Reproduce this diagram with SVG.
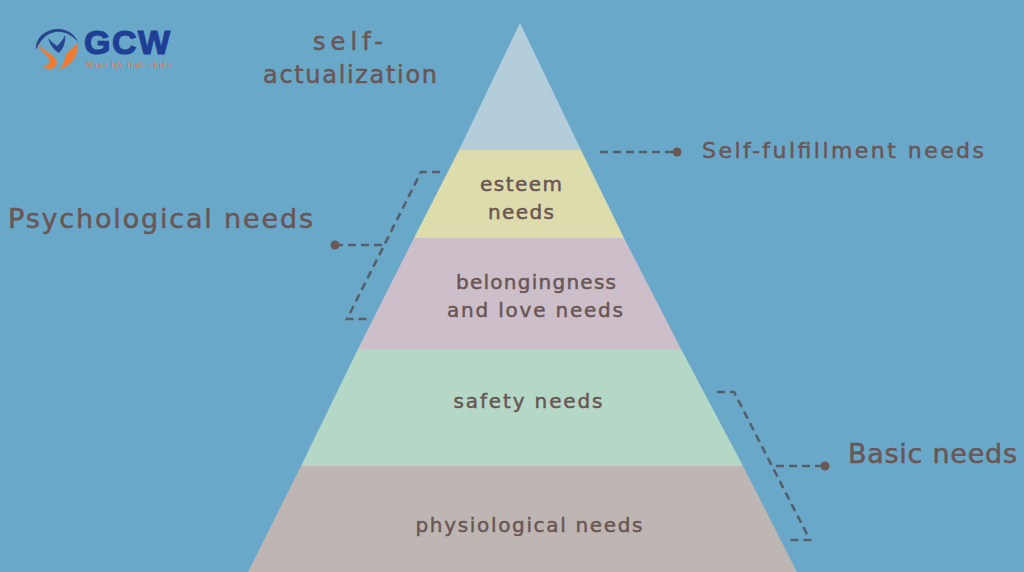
<svg xmlns="http://www.w3.org/2000/svg" width="1024" height="572" viewBox="0 0 1024 572">
<style>
.t{font-family:"DejaVu Sans","Liberation Sans",sans-serif;fill:#6a5655;stroke:#6a5655;stroke-width:.5px;font-size:20px}
.c{text-anchor:middle}
.d{fill:none;stroke:#56606c;stroke-width:2.6;stroke-dasharray:8 5}
.dot{fill:#6a5655}
</style>
<rect width="1024" height="572" fill="#69a8c9"/>
<g id="logo">
<path d="M36 50C35 36 48 28 60 29C69 30 75 35 78 42C72 35 64 31 56 32C46 33 40 41 36 50Z" fill="#27468f"/>
<path d="M48 38C51 41 54 44 57 46C60 43 63 40 65 35C66 42 63 49 59 53C54 50 50 45 48 38Z" fill="#27468f"/>
<path d="M38 44C39 51 46 53 49 59C50 63 48 66 43 66C48 71 56 70 57 62C55 54 44 52 38 44Z" fill="#ee7a33"/>
<path d="M78 42C79 54 73 66 56 71C65 66 64 58 67 53C70 50 75 47 78 42Z" fill="#ee7a33"/>
<text x="84" y="54" font-family="Liberation Sans,sans-serif" font-weight="700" font-size="34" stroke="#1f3f96" stroke-width="1.2" fill="#1f3f96" textLength="86">GCW</text>
<text x="85" y="68" font-family="Liberation Serif,serif" font-size="9.5" fill="#e8773a" textLength="86">Nhân lực thực chiến</text>
</g>
<g id="level-self-actualization"><path d="M520 23L459 150H581Z" fill="#b4cddb"/></g>
<g id="level-esteem"><path d="M459 150H581L624 238H414Z" fill="#dcdcac"/>
<text class="t c" x="521" y="191" textLength="82">esteem</text><text class="t c" x="521" y="219" textLength="66">needs</text></g>
<g id="level-belonging"><path d="M414 238H624L681 349H358Z" fill="#ccbfca"/>
<text class="t c" x="536" y="289" textLength="160">belongingness</text><text class="t c" x="535" y="317" textLength="176">and love needs</text></g>
<g id="level-safety"><path d="M358 349H681L743 466H301Z" fill="#b5d8c6"/>
<text class="t c" x="528" y="408" textLength="149">safety needs</text></g>
<g id="level-physiological"><path d="M301 466H743L797 572H248Z" fill="#bdb6b3"/>
<text class="t c" x="529" y="532" textLength="227">physiological needs</text></g>
<g id="label-self-actualization"><text class="t c" x="348" y="50" textLength="70" style="font-size:24px">self-</text><text class="t c" x="350" y="83" textLength="174" style="font-size:24px">actualization</text></g>
<g id="label-self-fulfillment"><text class="t" x="702" y="158" textLength="282" style="font-size:22px">Self-fulfillment needs</text></g>
<g id="label-psychological"><text class="t" x="8" y="228" textLength="305" style="font-size:27px">Psychological needs</text></g>
<g id="label-basic"><text class="t" x="848" y="463" textLength="169" style="font-size:27px">Basic needs</text></g>
<g id="connectors">
<path class="d" d="M600 152H676"/><circle class="dot" cx="677" cy="152" r="4.5"/>
<path class="d" d="M440 172H421L347 319H367"/>
<path class="d" d="M335 245H383"/><circle class="dot" cx="335" cy="245" r="4.5"/>
<path class="d" d="M717 392H734L810 540H790"/>
<path class="d" d="M776 466H824"/><circle class="dot" cx="825" cy="466" r="4.5"/>
</g>
</svg>
